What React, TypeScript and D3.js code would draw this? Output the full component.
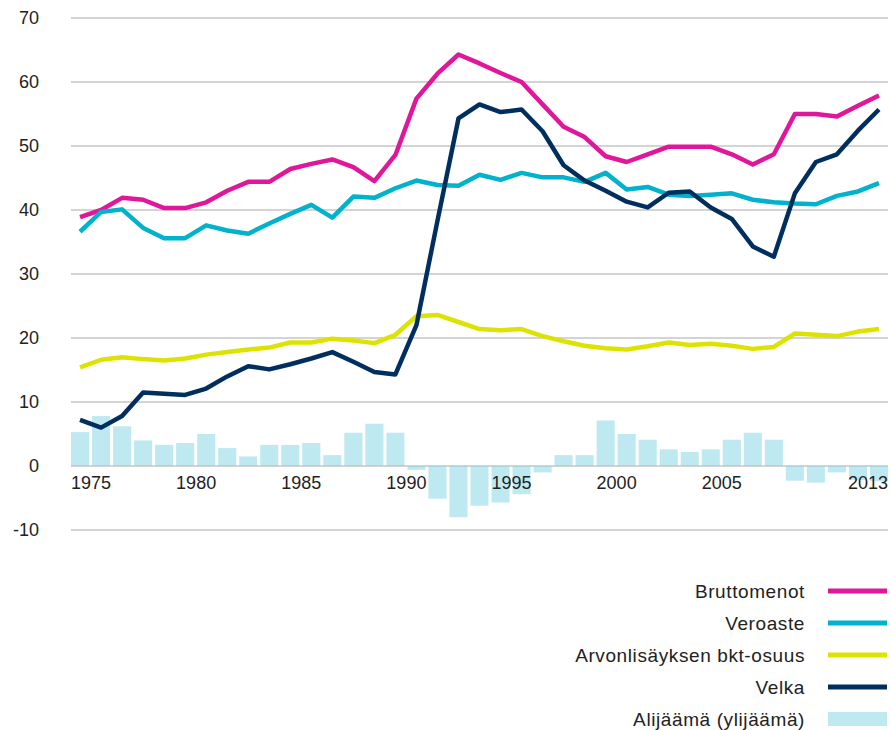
import React, { useEffect, useRef } from "react";
import * as d3 from "d3";

const years = d3.range(1975, 2014);

const bruttomenot = [
  38.9, 40.0, 41.9, 41.6, 40.3, 40.3, 41.2, 43.0, 44.4, 44.4,
  46.4, 47.2, 47.9, 46.7, 44.5, 48.6, 57.4, 61.3, 64.3, 62.9,
  61.4, 60.0, 56.5, 53.0, 51.4, 48.4, 47.5, 48.7, 49.9, 49.9,
  49.9, 48.7, 47.1, 48.7, 55.0, 55.0, 54.6, 56.3, 57.9,
];

const veroaste = [
  36.6, 39.7, 40.1, 37.2, 35.6, 35.6, 37.6, 36.8, 36.3, 37.9,
  39.4, 40.8, 38.8, 42.1, 41.9, 43.4, 44.6, 43.9, 43.8, 45.5,
  44.7, 45.8, 45.1, 45.1, 44.4, 45.8, 43.2, 43.6, 42.4, 42.2,
  42.4, 42.6, 41.6, 41.2, 41.0, 40.9, 42.2, 42.9, 44.2,
];

const arvonlisays = [
  15.4, 16.6, 17.0, 16.7, 16.5, 16.8, 17.4, 17.8, 18.2, 18.5,
  19.3, 19.3, 19.9, 19.6, 19.2, 20.5, 23.4, 23.6, 22.5, 21.4,
  21.2, 21.4, 20.3, 19.5, 18.8, 18.4, 18.2, 18.7, 19.3, 18.9,
  19.1, 18.8, 18.3, 18.6, 20.7, 20.5, 20.3, 21.0, 21.4,
];

const velka = [
  7.2, 6.0, 7.8, 11.5, 11.3, 11.1, 12.1, 14.0, 15.6, 15.1,
  15.9, 16.8, 17.8, 16.3, 14.7, 14.3, 22.0, 38.3, 54.3, 56.5,
  55.3, 55.7, 52.3, 47.0, 44.6, 43.0, 41.3, 40.4, 42.7, 42.9,
  40.4, 38.6, 34.3, 32.7, 42.6, 47.5, 48.7, 52.4, 55.7,
];

const alijaama = [
  5.3, 7.8, 6.2, 4.0, 3.3, 3.6, 5.0, 2.8, 1.5, 3.3,
  3.3, 3.6, 1.7, 5.2, 6.6, 5.2, -0.6, -5.1, -8.0, -6.2,
  -5.7, -4.4, -1.0, 1.7, 1.7, 7.1, 5.0, 4.1, 2.6, 2.2,
  2.6, 4.1, 5.2, 4.1, -2.3, -2.6, -1.0, -2.2, -2.4,
];

const yTicks = [-10, 0, 10, 20, 30, 40, 50, 60, 70];
const xLabels = [1975, 1980, 1985, 1990, 1995, 2000, 2005, 2013];

const lineSeries = [
  { name: "Bruttomenot", values: bruttomenot, color: "#e0169b" },
  { name: "Veroaste", values: veroaste, color: "#00b2cb" },
  { name: "Arvonlisäyksen bkt-osuus", values: arvonlisays, color: "#dde300" },
  { name: "Velka", values: velka, color: "#002f5f" },
];
const barName = "Alijäämä (ylijäämä)";

export default function App() {
  const ref = useRef<SVGSVGElement>(null);

  useEffect(() => {
    const width = 891;
    const height = 730;
    const left = 71;
    const right = 888;
    const font = "'Liberation Sans', Arial, sans-serif";

    const svg = d3.select(ref.current);
    svg.selectAll("*").remove();
    svg.attr("width", width).attr("height", height);

    const x = d3
      .scaleBand<number>()
      .domain(years)
      .range([left, right])
      .paddingInner(0.14)
      .paddingOuter(0);

    const y = d3.scaleLinear().domain([-10, 70]).range([530, 18]);

    // gridlines
    svg
      .append("g")
      .selectAll("line")
      .data(yTicks)
      .enter()
      .append("line")
      .attr("x1", left)
      .attr("x2", right)
      .attr("y1", (d) => y(d))
      .attr("y2", (d) => y(d))
      .style("stroke", "#c6c6c6")
      .style("stroke-width", 1.5);

    // y labels
    svg
      .append("g")
      .selectAll("text")
      .data(yTicks)
      .enter()
      .append("text")
      .attr("x", 39)
      .attr("y", (d) => y(d))
      .attr("dy", "0.36em")
      .attr("text-anchor", "end")
      .style("font-family", font)
      .style("font-size", "18px")
      .style("fill", "#222")
      .text((d) => d);

    // deficit bars
    svg
      .append("g")
      .selectAll("rect")
      .data(alijaama)
      .enter()
      .append("rect")
      .attr("x", (_, i) => x(years[i]) as number)
      .attr("width", x.bandwidth())
      .attr("y", (d) => y(Math.max(0, d)))
      .attr("height", (d) => Math.abs(y(d) - y(0)))
      .style("fill", "#7fd3e1")
      .style("fill-opacity", 0.5);

    // x labels
    svg
      .append("g")
      .selectAll("text")
      .data(xLabels)
      .enter()
      .append("text")
      .attr("x", (d) => (d === 2013 ? right : (x(d) as number)))
      .attr("y", 489)
      .attr("text-anchor", (d) => (d === 2013 ? "end" : "start"))
      .style("font-family", font)
      .style("font-size", "18px")
      .style("fill", "#222")
      .text((d) => d);

    // lines
    const line = d3
      .line<number>()
      .x((_, i) => (x(years[i]) as number) + x.bandwidth() / 2)
      .y((d) => y(d));

    svg
      .append("g")
      .selectAll("path")
      .data(lineSeries)
      .enter()
      .append("path")
      .attr("d", (d) => line(d.values))
      .style("fill", "none")
      .style("stroke", (d) => d.color)
      .style("stroke-width", 4.5)
      .style("stroke-linejoin", "round");

    // legend
    const legend = svg.append("g");
    const legendItems = [...lineSeries.map((s) => s.name), barName];
    legendItems.forEach((name, i) => {
      const ly = 591 + i * 32;
      legend
        .append("text")
        .attr("x", 805)
        .attr("y", ly)
        .attr("dy", "0.36em")
        .attr("text-anchor", "end")
        .style("font-family", font)
        .style("font-size", "19px")
        .style("letter-spacing", "0.6px")
        .style("fill", "#222")
        .text(name);
      if (i < lineSeries.length) {
        legend
          .append("line")
          .attr("x1", 828)
          .attr("x2", 887)
          .attr("y1", ly)
          .attr("y2", ly)
          .style("stroke", lineSeries[i].color)
          .style("stroke-width", 5);
      } else {
        legend
          .append("rect")
          .attr("x", 828)
          .attr("width", 59)
          .attr("y", ly - 7)
          .attr("height", 14)
          .style("fill", "#7fd3e1")
          .style("fill-opacity", 0.5);
      }
    });
  }, []);

  return (
    <svg
      ref={ref}
      style={{ position: "absolute", left: 0, top: 0, background: "#fff" }}
    />
  );
}
